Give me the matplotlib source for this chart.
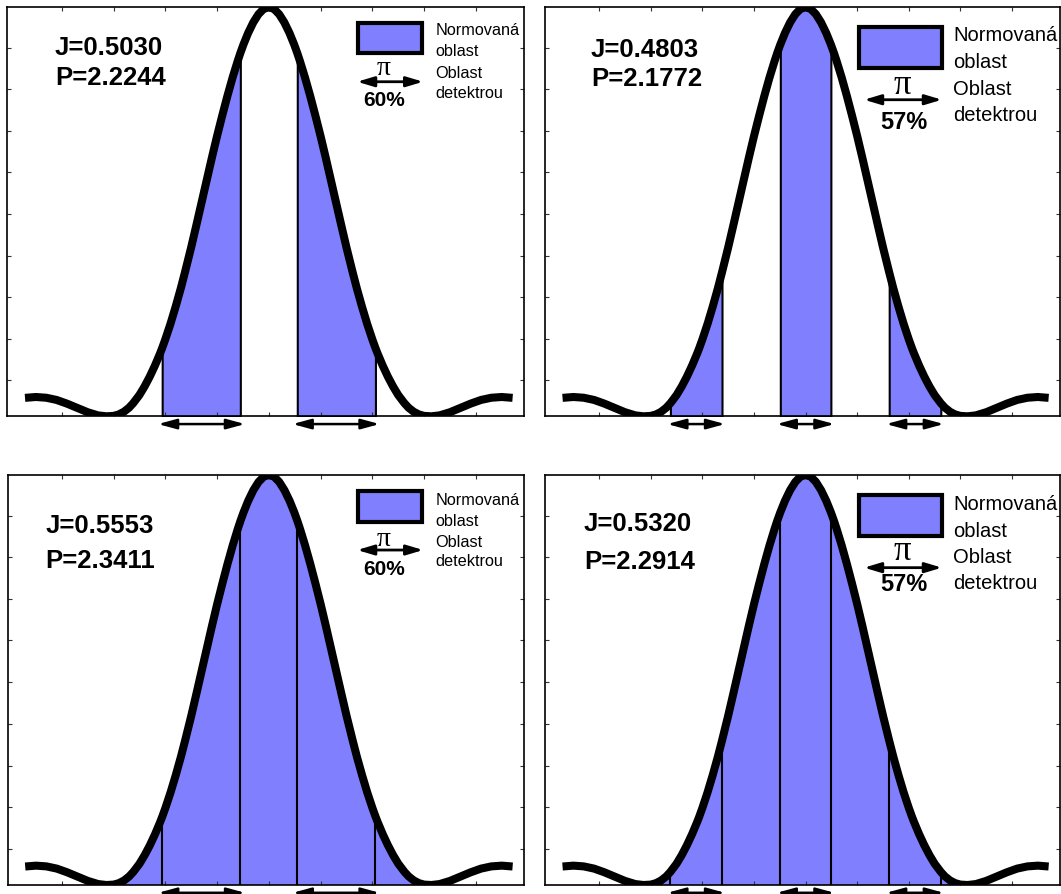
import numpy as np
import matplotlib
matplotlib.use('Agg')
import matplotlib.pyplot as plt
from matplotlib.patches import Rectangle

plt.rcParams['font.family'] = ['Liberation Sans', 'DejaVu Sans']

# ---------------- data ----------------
# half profile (x >= 0), mirrored for x < 0
curve_x_half = [0.0, 0.1, 0.2, 0.3, 0.4, 0.49, 0.55, 0.6, 0.7, 0.8, 0.9, 1.0, 1.1, 1.2,
                1.3, 1.4, 1.5, 1.62, 1.7, 1.8, 1.9, 2.0, 2.06, 2.1, 2.2, 2.3, 2.4, 2.5,
                2.62, 2.7, 2.8, 2.9, 3.0, 3.14, 3.3, 3.5, 3.7, 3.9, 4.1, 4.3, 4.5, 4.71]
curve_y_half = [1.0, 0.996, 0.983, 0.963, 0.937, 0.909, 0.888, 0.869, 0.828, 0.783, 0.735,
                0.685, 0.632, 0.577, 0.522, 0.467, 0.413, 0.352, 0.313, 0.268, 0.226,
                0.188, 0.167, 0.154, 0.124, 0.097, 0.073, 0.052, 0.032, 0.021, 0.011,
                0.0045, 0.001, 0.0, 0.0023, 0.010, 0.0205, 0.031, 0.040, 0.0454, 0.0472,
                0.0451]

det_60 = [(-2.06, -0.55), (0.55, 2.06)]
det_57 = [(-2.62, -1.62), (-0.49, 0.49), (1.62, 2.62)]
arr_60 = [(-2.14, -0.46), (0.46, 2.14)]
arr_57 = [(-2.68, -1.56), (-0.56, 0.56), (1.56, 2.68)]

j_values = ['0.5030', '0.4803', '0.5553', '0.5320']
p_values = ['2.2244', '2.1772', '2.3411', '2.2914']
percents = ['60%', '57%', '60%', '57%']
legend_lines = ['Normovaná', 'oblast', 'Oblast', 'detektrou']
y_ticks = [0.088, 0.19, 0.291, 0.392, 0.494, 0.597, 0.698, 0.80, 0.9005]
x_ticks = [-4, -3, -2, -1, 0, 1, 2, 3, 4]

BLUE = '#8080FF'

x = np.concatenate([-np.array(curve_x_half[:0:-1]), np.array(curve_x_half)])
y = np.concatenate([np.array(curve_y_half[:0:-1]), np.array(curve_y_half)])
yval = dict(zip(np.round(x, 3), y))

W, H = 1061, 895
fig = plt.figure(figsize=(W / 100, H / 100), dpi=100)

def px_axes(left, top, right, bottom):
    return fig.add_axes([left / W, 1 - bottom / H, (right - left) / W, (bottom - top) / H])

axes = [px_axes(7.4, 8.3, 524, 417.3), px_axes(545, 8.3, 1060, 417.3),
        px_axes(7.6, 476, 524, 886), px_axes(545, 476, 1060, 886)]

# layout of in-axes annotations, per panel (axes fraction)
layouts = [
    dict(jx=0.092, jy=0.904, py=0.830, rect=(0.679, 0.888, 0.123, 0.073), lx=0.828,
         ly=[0.9452, 0.8939, 0.8418, 0.7905], lfs=11.7, pix=0.728, piy=0.853, pifs=20,
         ax_=(0.677, 0.8047), ay=0.818, px_=0.729, pcy=0.775, pfs=15),
    dict(jx=0.089, jy=0.898, py=0.828, rect=(0.609, 0.852, 0.161, 0.1), lx=0.792,
         ly=[0.9328, 0.8667, 0.8007, 0.7384], lfs=14.5, pix=0.693, piy=0.812, pifs=25,
         ax_=(0.6196, 0.7706), ay=0.774, px_=0.697, pcy=0.721, pfs=17),
    dict(jx=0.073, jy=0.877, py=0.792, rect=(0.679, 0.885, 0.123, 0.077), lx=0.828,
         ly=[0.941, 0.890, 0.839, 0.792], lfs=11.7, pix=0.728, piy=0.845, pifs=20,
         ax_=(0.677, 0.8047), ay=0.817, px_=0.729, pcy=0.772, pfs=15),
    dict(jx=0.0755, jy=0.882, py=0.791, rect=(0.609, 0.852, 0.161, 0.1), lx=0.792,
         ly=[0.9315, 0.8655, 0.801, 0.7385], lfs=14.5, pix=0.693, piy=0.816, pifs=25,
         ax_=(0.6196, 0.7706), ay=0.774, px_=0.697, pcy=0.735, pfs=17),
]

for i, ax in enumerate(axes):
    dets = det_60 if i % 2 == 0 else det_57
    arrs = arr_60 if i % 2 == 0 else arr_57
    full = i >= 2
    L = layouts[i]

    ax.set_xlim(-5.05, 4.93)
    ax.set_ylim(0, 1)
    ax.set_xticks(x_ticks)
    ax.set_yticks(y_ticks)
    ax.set_xticklabels([])
    ax.set_yticklabels([])
    ax.tick_params(direction='in', length=3.2, width=0.8, top=True, right=True,
                   colors='#333333')
    for s in ax.spines.values():
        s.set_linewidth(1.2)

    if full:
        m = np.abs(x) <= 3.1401
        ax.fill_between(x[m], 0, y[m], facecolor=BLUE, edgecolor='none', zorder=1)
        for a, b in dets:
            for e in (a, b):
                ax.vlines(e, 0, yval[round(e, 3)], color='k', lw=1.5, zorder=2)
    else:
        for a, b in dets:
            m = (x >= a - 1e-9) & (x <= b + 1e-9)
            ax.fill_between(x[m], 0, y[m], facecolor=BLUE, edgecolor='k', lw=1.5, zorder=1)

    ax.plot(x, y, color='k', lw=5.8, solid_capstyle='butt', solid_joinstyle='round', zorder=3)

    for a, b in arrs:
        ax.annotate('', xy=(b, -0.019), xytext=(a, -0.019),
                    xycoords=('data', 'axes fraction'), textcoords=('data', 'axes fraction'),
                    annotation_clip=False,
                    arrowprops=dict(arrowstyle='<|-|>,head_length=1.1,head_width=0.3',
                                    lw=1.8, color='k', shrinkA=0, shrinkB=0))

    ax.text(L['jx'], L['jy'], 'J=' + j_values[i], transform=ax.transAxes, fontsize=18.5,
            fontweight='bold', ha='left', va='center')
    ax.text(L['jx'], L['py'], 'P=' + p_values[i], transform=ax.transAxes, fontsize=18.5,
            fontweight='bold', ha='left', va='center')

    rx, ry, rw, rh = L['rect']
    ax.add_patch(Rectangle((rx, ry), rw, rh, transform=ax.transAxes, facecolor=BLUE,
                           edgecolor='k', lw=3, zorder=4))
    for t, yy in zip(legend_lines, L['ly']):
        ax.text(L['lx'], yy, t, transform=ax.transAxes, fontsize=L['lfs'], ha='left',
                va='center', zorder=5)
    ax.text(L['pix'], L['piy'], 'π', transform=ax.transAxes, fontsize=L['pifs'],
            family=['Liberation Serif', 'DejaVu Serif'], ha='center', va='center', zorder=5)
    ax.annotate('', xy=(L['ax_'][1], L['ay']), xytext=(L['ax_'][0], L['ay']),
                xycoords='axes fraction', textcoords='axes fraction',
                arrowprops=dict(arrowstyle='<|-|>,head_length=1.0,head_width=0.3',
                                lw=2.0, color='k', shrinkA=0, shrinkB=0))
    ax.text(L['px_'], L['pcy'], percents[i], transform=ax.transAxes, fontsize=L['pfs'],
            fontweight='bold', ha='center', va='center', zorder=5)

fig.savefig('out.png', dpi=100)
